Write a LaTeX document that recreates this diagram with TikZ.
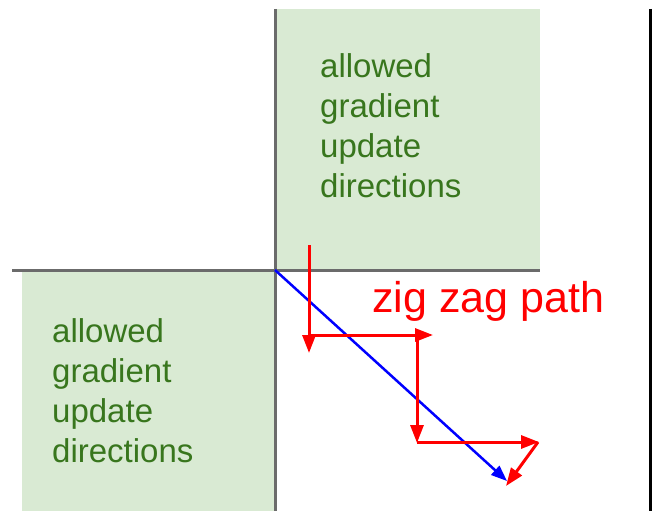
\documentclass[tikz,border=0pt]{standalone}
\usepackage{fontspec}
\setmainfont{Liberation Sans}
\usepackage{xcolor}
\usetikzlibrary{arrows.meta,positioning}
\definecolor{boxgreen}{HTML}{D9EAD3}
\definecolor{txtgreen}{HTML}{38761D}
\tikzset{
  greenbox/.style={fill=boxgreen, draw=none},
  axisline/.style={draw=black!58, line width=3pt},
  wall/.style={draw=black, line width=3pt},
  boxtext/.style={anchor=north west, inner sep=0pt, align=left, text=txtgreen, font=\fontsize{33}{40}\selectfont},
  zzlabel/.style={anchor=base west, inner sep=0pt, text=red, font=\fontsize{43}{50}\selectfont},
  zz_arrow/.style={draw=red, line width=3pt, -{Triangle[length=18pt,width=13pt]}},
  gd_arrow/.style={draw=blue, line width=2.5pt, -{Triangle[length=16pt,width=12pt]}}
}

\begin{document}
\begin{tikzpicture}[x=1pt,y=-1pt]
  \useasboundingbox (0,0) rectangle (655,511);
  % the two shaded quadrants
  \fill[greenbox] (277,9) rectangle (540,270);
  \fill[greenbox] (22,270) rectangle (275,511);
  \node[boxtext] (qa) at (320,53) {allowed\\gradient\\update\\directions};
  \node[boxtext] (qb) at (52,318) {allowed\\gradient\\update\\directions};
  % axes
  \coordinate (o) at (275,270);
  \draw[axisline] (275,9) -- (o) -- (275,511);
  \draw[axisline] (12,270) -- (o) -- (540,270);
  \draw[wall] (650,9) -- (650,511);
  % zig zag steps
  \coordinate (z0) at (309,245);
  \coordinate (z1) at (309,353);
  \coordinate (z2) at (309,335);
  \coordinate (z3) at (433,335);
  \coordinate (z4) at (417,335);
  \coordinate (z5) at (417,443);
  \coordinate (z6) at (417,442);
  \coordinate (z7) at (539,442);
  \coordinate (z8) at (538,442);
  \coordinate (z9) at (506,486);
  \coordinate (g) at (507,481);
  \draw[gd_arrow] (o) -- (g);
  \draw[zz_arrow] (z0) -- (z1);
  \draw[zz_arrow] (z2) -- (z3);
  \draw[zz_arrow] (z4) -- (z5);
  \draw[zz_arrow] (z6) -- (z7);
  \draw[zz_arrow] (z8) -- (z9);
  \node[zzlabel] (zz) at (372,312) {zig zag path};
\end{tikzpicture}
\end{document}
